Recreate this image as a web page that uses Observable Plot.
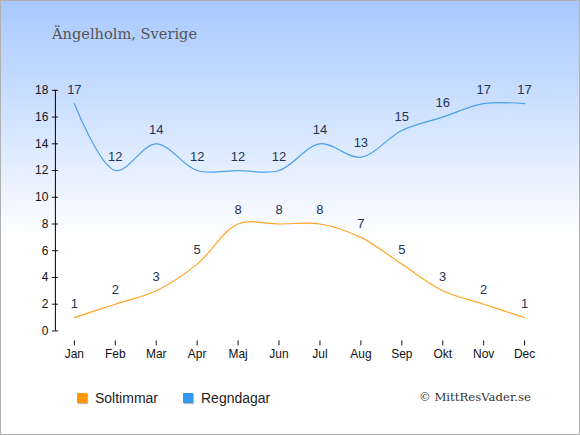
<!DOCTYPE html>
<html>
<head>
<meta charset="utf-8">
<script src="https://cdn.jsdelivr.net/npm/d3@7"></script>
<script src="https://cdn.jsdelivr.net/npm/@observablehq/plot@0.6"></script>
<style>
  html, body { margin: 0; padding: 0; }
  #wrap {
    position: relative; width: 580px; height: 435px; box-sizing: border-box;
    border: 1px solid #b0b0b0;
    background: linear-gradient(to bottom, #a8c9fe 0%, #d6e6ff 30%, #ffffff 55%, #ffffff 100%);
    overflow: hidden;
    font-family: "Liberation Sans", Arial, sans-serif;
  }
  #title {
    position: absolute; left: 51px; top: 24px;
    font-family: "DejaVu Serif", serif; font-size: 14.6px; color: #555;
  }
  #plot { position: absolute; left: -1px; top: -1px; }
  #legend { position: absolute; left: 76px; top: 389px; font-size: 14px; color: #222; }
  .item { position: absolute; white-space: nowrap; display: flex; align-items: center; }
  .sw { width: 10px; height: 10px; display: inline-block; margin-right: 8px; box-shadow: 1px 1px 1px #bbb; }
  #copy {
    position: absolute; left: 418px; top: 389px;
    font-family: "DejaVu Serif", serif; font-size: 11.7px; color: #333;
  }
</style>
</head>
<body>
<div id="wrap">
  <div id="title">Ängelholm, Sverige</div>
  <div id="plot"></div>
  <div id="legend">
    <div class="item" style="left:0px;top:0"><span class="sw" style="background:#ff9900"></span>Soltimmar</div>
    <div class="item" style="left:106px;top:0"><span class="sw" style="background:#3399ee"></span>Regndagar</div>
  </div>
  <div id="copy">© MittResVader.se</div>
</div>
<script>
const months = ["Jan","Feb","Mar","Apr","Maj","Jun","Jul","Aug","Sep","Okt","Nov","Dec"];
const sunHours = [1,2,3,5,8,8,8,7,5,3,2,1];
const rainDays = [17,12,14,12,12,12,14,13,15,16,17,17];
const yTicks = [0,2,4,6,8,10,12,14,16,18];

const sun = months.map((m, i) => ({month: m, value: sunHours[i]}));
const rain = months.map((m, i) => ({month: m, value: rainDays[i]}));

const labelColor = "#1f3352";

const chart = Plot.plot({
  width: 580,
  height: 370,
  marginTop: 90,
  marginBottom: 39,
  marginLeft: 55,
  marginRight: 55,
  style: {background: "transparent", fontFamily: "Liberation Sans, Arial, sans-serif"},
  x: {type: "point", domain: months, range: [74, 525], padding: 0, axis: null},
  y: {domain: [0, 18], axis: null},
  marks: [
    Plot.ruleX([months[0]], {y1: 0, y2: 18, dx: -19, stroke: "#000"}),
    Plot.axisY({ticks: yTicks, tickSize: 3, tickPadding: 4, fontSize: 12, color: "#111", label: null}),
    Plot.axisY({ticks: yTicks, tickSize: 3, dx: 3, tickFormat: () => "", label: null}),
    Plot.ruleY([0], {x1: months[0], x2: months[11], dy: 10, stroke: "#000"}),
    Plot.axisX({ticks: months, tickSize: 5, tickPadding: 4, dy: 10, fontSize: 12, color: "#111", label: null}),
    Plot.line(sun, {x: "month", y: "value", curve: "catmull-rom", stroke: "#ffa629", strokeWidth: 1.2}),
    Plot.line(rain, {x: "month", y: "value", curve: "catmull-rom", stroke: "#4aa0ec", strokeWidth: 1.2}),
    Plot.text(sun, {x: "month", y: "value", text: d => String(d.value), dy: -14, fontSize: 13, fill: labelColor}),
    Plot.text(rain, {x: "month", y: "value", text: d => String(d.value), dy: -14, fontSize: 13, fill: labelColor})
  ]
});
document.getElementById("plot").appendChild(chart);
</script>
</body>
</html>
